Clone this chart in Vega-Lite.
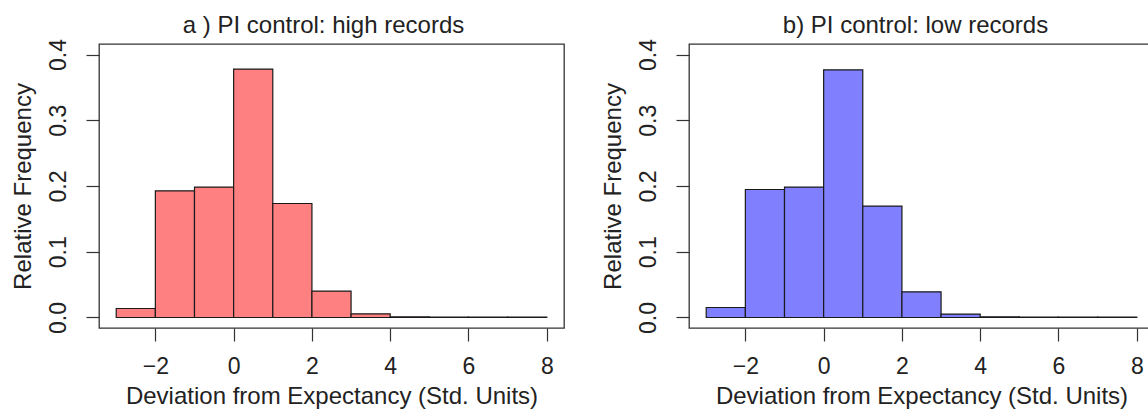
{
  "$schema": "https://vega.github.io/schema/vega-lite/v6.json",
  "padding": {"left": 10, "top": 12, "right": 0, "bottom": 0},
  "background": "white",
  "bounds": "flush",
  "spacing": 125,
  "datasets": {
    "high": [
      {"bin_start": -3, "bin_end": -2, "freq": 0.0137},
      {"bin_start": -2, "bin_end": -1, "freq": 0.1927},
      {"bin_start": -1, "bin_end": 0, "freq": 0.1983},
      {"bin_start": 0, "bin_end": 1, "freq": 0.3778},
      {"bin_start": 1, "bin_end": 2, "freq": 0.1734},
      {"bin_start": 2, "bin_end": 3, "freq": 0.0401},
      {"bin_start": 3, "bin_end": 4, "freq": 0.0056},
      {"bin_start": 4, "bin_end": 5, "freq": 0.0010},
      {"bin_start": 5, "bin_end": 6, "freq": 0.0006},
      {"bin_start": 6, "bin_end": 7, "freq": 0.0005},
      {"bin_start": 7, "bin_end": 8, "freq": 0.0004}
    ],
    "low": [
      {"bin_start": -3, "bin_end": -2, "freq": 0.0152},
      {"bin_start": -2, "bin_end": -1, "freq": 0.1947},
      {"bin_start": -1, "bin_end": 0, "freq": 0.1983},
      {"bin_start": 0, "bin_end": 1, "freq": 0.3767},
      {"bin_start": 1, "bin_end": 2, "freq": 0.1694},
      {"bin_start": 2, "bin_end": 3, "freq": 0.0391},
      {"bin_start": 3, "bin_end": 4, "freq": 0.0052},
      {"bin_start": 4, "bin_end": 5, "freq": 0.0010},
      {"bin_start": 5, "bin_end": 6, "freq": 0.0006},
      {"bin_start": 6, "bin_end": 7, "freq": 0.0005},
      {"bin_start": 7, "bin_end": 8, "freq": 0.0004}
    ]
  },
  "config": {
    "font": "Liberation Sans",
    "view": {"stroke": "#333333", "strokeWidth": 1.3},
    "axis": {
      "grid": false,
      "domain": false,
      "tickSize": 13,
      "tickColor": "#333333",
      "tickWidth": 1.2,
      "labelFont": "Liberation Sans",
      "labelFontSize": 23,
      "labelColor": "#222222",
      "titleFont": "Liberation Sans",
      "titleFontSize": 24,
      "titleFontWeight": "normal",
      "titleColor": "#222222",
      "labelFlush": false,
      "labelOverlap": false
    },
    "axisX": {"labelBaseline": "alphabetic", "labelPadding": 32, "titleBaseline": "alphabetic", "titleY": 75},
    "axisY": {"labelAngle": 270, "labelAlign": "center", "labelBaseline": "alphabetic", "labelPadding": 21, "titleAngle": 270, "titleBaseline": "alphabetic", "titleX": -69},
    "title": {"font": "Liberation Sans", "fontSize": 24, "fontWeight": "normal", "color": "#222222", "baseline": "alphabetic", "offset": 1, "anchor": "middle"}
  },
  "hconcat": [
    {
      "width": 465,
      "height": 284,
      "title": {"text": "a ) PI control: high records", "dx": -8},
      "data": {"name": "high"},
      "mark": {"type": "bar", "fill": "#FF8080", "stroke": "#1a1a1a", "strokeWidth": 1.2},
      "encoding": {
        "x": {"field": "bin_start", "type": "quantitative", "scale": {"domain": [-3.44, 8.44], "nice": false, "zero": false}, "axis": {"values": [-2, 0, 2, 4, 6, 8], "title": "Deviation from Expectancy (Std. Units)"}},
        "x2": {"field": "bin_end"},
        "y": {"field": "freq", "type": "quantitative", "scale": {"domain": [-0.016, 0.416], "nice": false, "zero": false}, "axis": {"values": [0, 0.1, 0.2, 0.3, 0.4], "format": ".1f", "title": "Relative Frequency"}},
        "y2": {"datum": 0}
      }
    },
    {
      "width": 465,
      "height": 284,
      "title": {"text": "b) PI control: low records", "dx": -6},
      "data": {"name": "low"},
      "mark": {"type": "bar", "fill": "#8080FF", "stroke": "#1a1a1a", "strokeWidth": 1.2},
      "encoding": {
        "x": {"field": "bin_start", "type": "quantitative", "scale": {"domain": [-3.44, 8.44], "nice": false, "zero": false}, "axis": {"values": [-2, 0, 2, 4, 6, 8], "title": "Deviation from Expectancy (Std. Units)"}},
        "x2": {"field": "bin_end"},
        "y": {"field": "freq", "type": "quantitative", "scale": {"domain": [-0.016, 0.416], "nice": false, "zero": false}, "axis": {"values": [0, 0.1, 0.2, 0.3, 0.4], "format": ".1f", "title": "Relative Frequency"}},
        "y2": {"datum": 0}
      }
    }
  ]
}
